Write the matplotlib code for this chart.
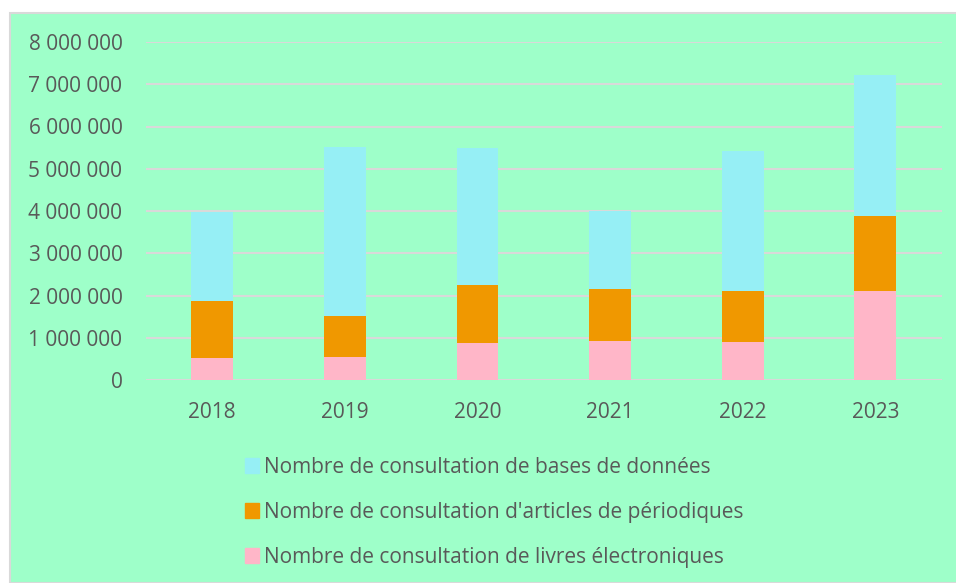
import matplotlib.pyplot as plt
from matplotlib.patches import Rectangle, Patch

years = ['2018', '2019', '2020', '2021', '2022', '2023']
livres = [515000, 555000, 880000, 930000, 900000, 2100000]
articles = [1365000, 965000, 1380000, 1220000, 1200000, 1780000]
bases = [2100000, 3990000, 3240000, 1850000, 3320000, 3340000]
labels = ['Nombre de consultation de bases de données',
          "Nombre de consultation d'articles de périodiques",
          'Nombre de consultation de livres électroniques']
yticks = [0, 1000000, 2000000, 3000000, 4000000, 5000000, 6000000, 7000000, 8000000]

bg = '#9effc9'
c_bases = '#96eff5'
c_art = '#f09800'
c_liv = '#ffb6c8'
txt = '#595959'

plt.rcParams['font.family'] = ['Open Sans', 'DejaVu Sans']

fig = plt.figure(figsize=(9.56, 5.83), dpi=100, facecolor='white')
fig.patches.append(Rectangle((10 / 956, 0), 1, 570 / 583, transform=fig.transFigure,
                             facecolor=bg, edgecolor='#d9d9d9', linewidth=1.5, zorder=-1))

ax = fig.add_axes([146 / 956, (583 - 380) / 583, (941.6 - 146) / 956, (380 - 42) / 583])
ax.set_facecolor('none')

x = range(len(years))
w = 0.316
ax.bar(x, livres, w, color=c_liv, zorder=2)
ax.bar(x, articles, w, bottom=livres, color=c_art, zorder=2)
bot2 = [a + b for a, b in zip(livres, articles)]
ax.bar(x, bases, w, bottom=bot2, color=c_bases, zorder=2)

ax.set_xlim(-0.5, 5.5)
ax.set_ylim(0, 8000000)
ax.set_yticks(yticks)
ax.set_yticklabels(['{:,}'.format(v).replace(',', ' ') for v in yticks])
ax.set_xticks(list(x))
ax.set_xticklabels(years)
ax.grid(axis='y', color='#d9d9d9', linewidth=1.5, zorder=1)
for s in ax.spines.values():
    s.set_visible(False)
ax.tick_params(length=0, labelsize=15, labelcolor=txt)
ax.tick_params(axis='y', pad=17)
ax.tick_params(axis='x', pad=16)

handles = [Patch(color=c_bases), Patch(color=c_art), Patch(color=c_liv)]
fig.legend(handles, labels, loc='upper left', bbox_to_anchor=(226 / 956, 1 - 438 / 583),
           frameon=False, fontsize=15, labelcolor=txt, handlelength=0.7, handleheight=0.7,
           handletextpad=0.22, labelspacing=1.15)

fig.savefig('out.png', dpi=100, facecolor='white')
